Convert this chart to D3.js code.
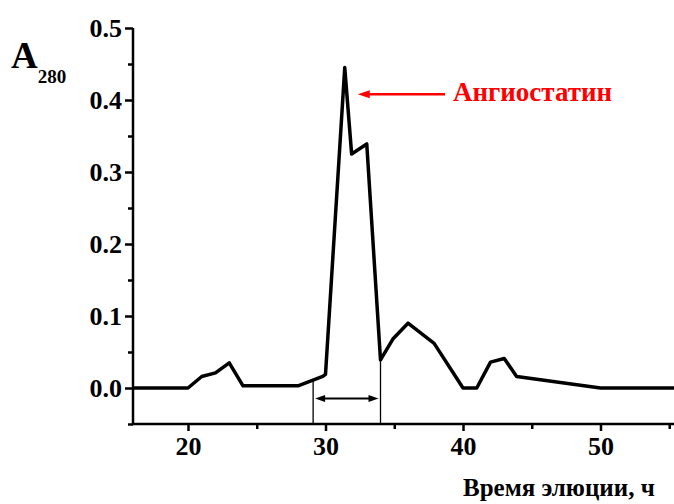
<!DOCTYPE html>
<html>
<head>
<meta charset="utf-8">
<script src="https://d3js.org/d3.v7.min.js"></script>
<style>
  body { margin: 0; background: #fff; }
  svg { display: block; }
  svg text { font-family: "Liberation Serif", "Times New Roman", serif !important; font-weight: bold; }
</style>
</head>
<body>
<div class="chart"></div>
<script>
let width = 674
let height = 504

// elution profile
let timeValues = [16, 20, 21, 22, 23, 24, 28, 29.8, 30, 31.4, 31.9, 33, 34, 34.9, 36, 37.9, 40, 41, 42, 43, 43.9, 50, 56]
let absValues  = [0, 0, 0.016, 0.021, 0.035, 0.003, 0.003, 0.016, 0.019, 0.445, 0.325, 0.339, 0.039, 0.068, 0.09, 0.062, 0.0, 0.0, 0.036, 0.041, 0.016, 0.0, 0.0]
let xTicks = [20, 30, 40, 50]
let xMinor = [25, 35, 45, 55]
let yTicks = [0.0, 0.1, 0.2, 0.3, 0.4, 0.5]
let yMinor = [-0.05, 0.05, 0.15, 0.25, 0.35, 0.45]
let fraction = [29.1, 34.0]   // collected fraction

let serif = '"Liberation Serif", "Times New Roman", serif'
let x = d3.scaleLinear().domain([16, 56]).range([133, 683])
let y = d3.scaleLinear().domain([-0.05, 0.5]).range([424, 28])

let svg = d3.select('div.chart')
    .append('svg')
    .attr('width', width)
    .attr('height', height)

// arrow head drawn as a small triangle pointing left (dir=-1) or right (dir=1)
function head(px, py, dir, len, half, color) {
    svg.append('path')
        .attr('d', 'M' + px + ',' + py + 'L' + (px - dir * len) + ',' + (py - half) +
                   'L' + (px - dir * len) + ',' + (py + half) + 'Z')
        .attr('fill', color)
}

// y axis
let yAxis = svg.append('g')
    .attr('transform', 'translate(133,0)')
    .call(d3.axisLeft(y).tickValues(yTicks).tickFormat(d3.format('.1f')).tickSize(8).tickPadding(3))
yAxis.attr('font-family', serif).attr('font-size', 26)
yAxis.select('.domain').attr('d', 'M0,' + y(0.5) + 'V' + y(-0.05)).attr('stroke-width', 2.5)
yAxis.selectAll('.tick line').attr('stroke-width', 2.5)
yAxis.selectAll('.tick text').style('font-size', '26px').attr('dy', '0.33em')
svg.append('g')
    .attr('transform', 'translate(133,0)')
    .call(d3.axisLeft(y).tickValues(yMinor).tickFormat('').tickSize(5))
    .call(g => g.select('.domain').remove())
    .selectAll('line').attr('stroke-width', 2.5)

// x axis
let xAxis = svg.append('g')
    .attr('transform', 'translate(0,424)')
    .call(d3.axisBottom(x).tickValues(xTicks).tickSize(7).tickPadding(6))
xAxis.attr('font-family', serif).attr('font-size', 26)
xAxis.select('.domain').attr('d', 'M' + x(16) + ',0H' + x(56)).attr('stroke-width', 2.5)
xAxis.selectAll('.tick line').attr('stroke-width', 2.5)
xAxis.selectAll('.tick text').style('font-size', '26px')
svg.append('g')
    .attr('transform', 'translate(0,424)')
    .call(d3.axisBottom(x).tickValues(xMinor).tickFormat('').tickSize(5))
    .call(g => g.select('.domain').remove())
    .selectAll('line').attr('stroke-width', 2.5)

// axis titles
let yTitle = svg.append('text').attr('x', 11).attr('y', 68).style('font-size', '37px')
yTitle.append('tspan').text('A')
yTitle.append('tspan').attr('dy', 15).style('font-size', '19px').text('280')

svg.append('text')
    .attr('x', 463).attr('y', 496)
    .style('font-size', '25px')
    .text('Время элюции, ч')

// the curve
let points = timeValues.map((t, i) => [t, absValues[i]])
svg.append('path')
    .datum(points)
    .attr('fill', 'none')
    .attr('stroke', 'black')
    .attr('stroke-width', 3.5)
    .attr('stroke-linejoin', 'round')
    .attr('d', d3.line().x(d => x(d[0])).y(d => y(d[1])))

// fraction boundaries
let interp = t => {
    let i = d3.bisectLeft(timeValues, t)
    let t0 = timeValues[i - 1], t1 = timeValues[i]
    let k = (t - t0) / (t1 - t0)
    return absValues[i - 1] + k * (absValues[i] - absValues[i - 1])
}
svg.selectAll('line.frac')
    .data(fraction)
    .enter()
    .append('line')
    .attr('class', 'frac')
    .attr('x1', d => x(d)).attr('x2', d => x(d))
    .attr('y1', d => y(interp(d)))
    .attr('y2', y(-0.05))
    .attr('stroke', 'black')
    .attr('stroke-width', 1.3)
let ay = y(-0.0145)
let ax0 = x(fraction[0]) + 2, ax1 = x(fraction[1]) - 2
svg.append('line')
    .attr('x1', ax0 + 6).attr('x2', ax1 - 6)
    .attr('y1', ay).attr('y2', ay)
    .attr('stroke', 'black')
    .attr('stroke-width', 2)
head(ax0, ay, -1, 10, 3.5, 'black')
head(ax1, ay, 1, 10, 3.5, 'black')

// annotation
let ry = y(0.408)
let rx = x(31.4) + 13
svg.append('line')
    .attr('x1', 445).attr('x2', rx + 8)
    .attr('y1', ry).attr('y2', ry)
    .attr('stroke', 'red')
    .attr('stroke-width', 2.5)
head(rx, ry, -1, 12, 4, 'red')
svg.append('text')
    .attr('x', 453).attr('y', 101)
    .attr('fill', 'red')
    .style('font-size', '27px')
    .text('Ангиостатин')
</script>
</body>
</html>
